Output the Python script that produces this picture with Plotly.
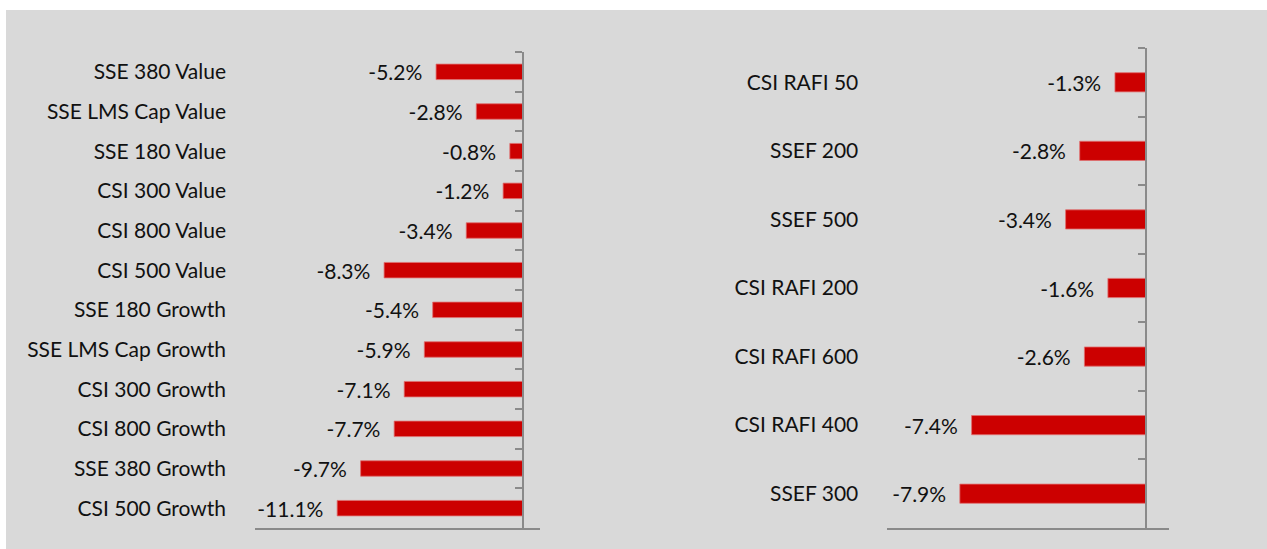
import plotly.graph_objects as go

left_categories = ["SSE 380 Value", "SSE LMS Cap Value", "SSE 180 Value", "CSI 300 Value",
                   "CSI 800 Value", "CSI 500 Value", "SSE 180 Growth", "SSE LMS Cap Growth",
                   "CSI 300 Growth", "CSI 800 Growth", "SSE 380 Growth", "CSI 500 Growth"]
left_values = [-0.052, -0.028, -0.008, -0.012, -0.034, -0.083, -0.054, -0.059,
               -0.071, -0.077, -0.097, -0.111]

right_categories = ["CSI RAFI 50", "SSEF 200", "SSEF 500", "CSI RAFI 200",
                    "CSI RAFI 600", "CSI RAFI 400", "SSEF 300"]
right_values = [-0.013, -0.028, -0.034, -0.016, -0.026, -0.074, -0.079]

W, H = 1267, 549
BAR = "#cc0000"
AX = "#8a8a8a"
BG = "#d9d9d9"
FONT = "Lato"
FS = 21

left_range = [-0.16, 0.01]
right_range = [-0.11, 0.01]
left_dom = [255 / W, 540 / W]
right_dom = [887 / W, 1169 / W]
left_ydom = [1 - 528 / H, 1 - 52 / H]
right_ydom = [1 - 528 / H, 1 - 48 / H]


def zero_pos(dom, rng):
    return dom[0] + (0 - rng[0]) / (rng[1] - rng[0]) * (dom[1] - dom[0])


fig = go.Figure()
for cats, vals, xa, ya, bw in [(left_categories, left_values, "x", "y", 0.39),
                               (right_categories, right_values, "x2", "y2", 0.28)]:
    fig.add_trace(go.Bar(
        y=cats, x=vals, orientation="h", width=bw,
        marker=dict(color=BAR, line=dict(color="#e07070", width=0.8)),
        texttemplate="%{x:.1%}\u00a0\u00a0", textposition="outside",
        constraintext="none",
        textfont=dict(family=FONT, size=FS, color="#111111"), cliponaxis=False,
        xaxis=xa, yaxis=ya, showlegend=False, hoverinfo="skip"))

xcommon = dict(showline=True, linecolor=AX, linewidth=2, showgrid=False, zeroline=False,
               showticklabels=False, ticks="", fixedrange=True)
ycommon = dict(showline=True, linecolor=AX, linewidth=2, showgrid=False, zeroline=False,
               ticks="outside", ticklen=7, tickwidth=2, tickcolor=AX, tickson="boundaries",
               autorange="reversed", type="category",
               tickfont=dict(family=FONT, size=FS, color="#111111"))

fig.update_layout(
    width=W, height=H,
    margin=dict(l=0, r=0, t=0, b=0),
    paper_bgcolor=BG, plot_bgcolor="rgba(0,0,0,0)",
    xaxis=dict(domain=left_dom, range=left_range, anchor="y", **xcommon),
    xaxis2=dict(domain=right_dom, range=right_range, anchor="y2", **xcommon),
    yaxis=dict(domain=left_ydom, anchor="free", position=zero_pos(left_dom, left_range),
               categoryorder="array", categoryarray=left_categories,
               ticklabelstandoff=292, **ycommon),
    yaxis2=dict(domain=right_ydom, anchor="free", position=zero_pos(right_dom, right_range),
                categoryorder="array", categoryarray=right_categories,
                ticklabelstandoff=282, **ycommon),
    shapes=[
        dict(type="rect", xref="paper", yref="paper", x0=0, x1=6 / W, y0=0, y1=1,
             fillcolor="white", line=dict(width=0), layer="below"),
        dict(type="rect", xref="paper", yref="paper", x0=0, x1=1, y0=1 - 10 / H, y1=1,
             fillcolor="white", line=dict(width=0), layer="below"),
    ],
)

fig.write_html("out.html", config={"displayModeBar": False},
               post_script="document.body.style.margin='0';document.body.style.overflow='hidden';")
